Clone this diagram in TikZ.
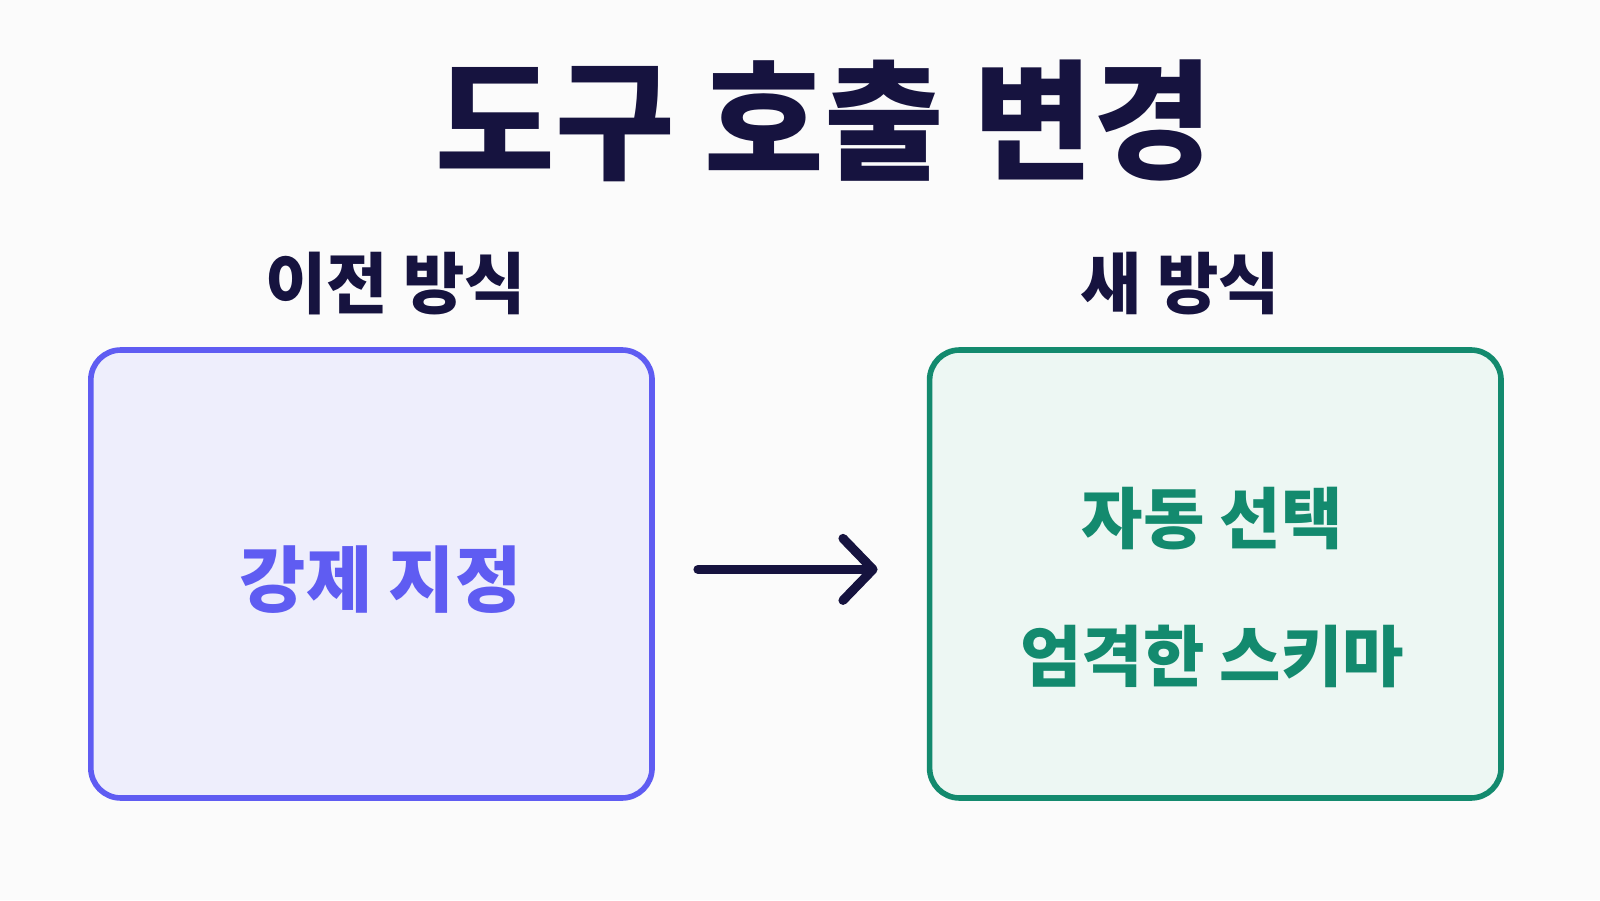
\documentclass[tikz,border=0pt]{standalone}
\usepackage{fontspec}
\newfontfamily\kr{Noto Sans CJK KR}
\usetikzlibrary{positioning, arrows.meta}
\definecolor{navy}{HTML}{16133F}
\definecolor{oldline}{HTML}{5F5CF2}
\definecolor{oldfill}{HTML}{EEEEFC}
\definecolor{newline}{HTML}{138A6E}
\definecolor{newfill}{HTML}{EDF7F3}
\tikzset{
  heading/.style={text=navy, font=\kr\bfseries\fontsize{19}{22}\selectfont},
  panel/.style={rounded corners=0.3cm, line width=1.6pt},
  label/.style={font=\kr\bfseries\fontsize{19}{22}\selectfont}
}
\begin{document}
\begin{tikzpicture}[x=0.010204cm, y=-0.010204cm]
\fill[white!97!gray] (0,0) rectangle (1568,882);
\useasboundingbox (0,0) rectangle (1568,882);
\node[text=navy, font=\kr\bfseries\fontsize{37}{40}\selectfont] (title) at (808,118) {도구 호출 변경};
\node[heading] (oldhead) at (388,278) {이전 방식};
\node[heading] (newhead) at (1157,278) {새 방식};

\draw[panel, draw=oldline, fill=oldfill] (89,343) rectangle (639,782);
\draw[panel, draw=newline, fill=newfill] (911,343) rectangle (1471,782);

\node[label, text=oldline, font=\kr\bfseries\fontsize{20.5}{24}\selectfont] (force) at (373,568) {강제 지정};
\node[label, text=newline] (auto) at (1188,508) {자동 선택};
\node[label, text=newline] (schema) at (1188,643) {엄격한 스키마};

\coordinate (from) at (684,558);
\coordinate (to) at (860,558);
\draw[navy, line width=2.6pt, line cap=round, -{Straight Barb[length=0.3cm, width=0.62cm, round]}] (from) -- (to);
\end{tikzpicture}
\end{document}
